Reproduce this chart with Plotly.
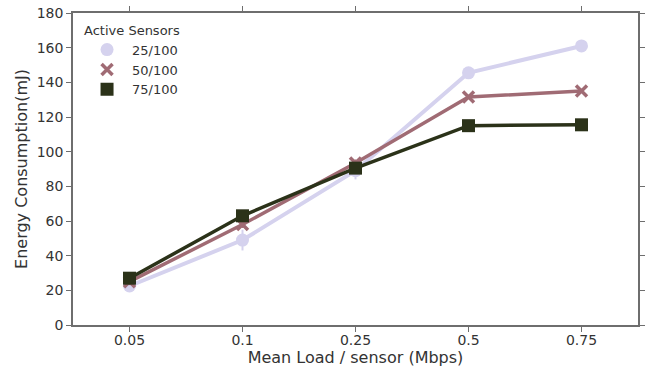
import plotly.graph_objects as go

loads = ["0.05", "0.1", "0.25", "0.5", "0.75"]
series_names = ["25/100", "50/100", "75/100"]
energy_25 = [22.5, 49, 89, 145.5, 161]
energy_50 = [25, 58, 93.5, 131.5, 135]
energy_75 = [27, 63, 90.5, 115, 115.5]
err_25 = [2, 6, 5, 1, 1]
err_50 = [2, 2, 2, 1, 1]
err_75 = [1, 1, 1, 1, 1]

colors = ["#d5d2ee", "#a06b74", "#2b3219"]
symbols = ["circle", "x-thin-open", "square"]
msizes = [13, 11, 13]
lwidths = [4, 3.5, 3.5]

fig = go.Figure()
for name, vals, errs, c, s, ms, lw in zip(series_names, [energy_25, energy_50, energy_75],
                                         [err_25, err_50, err_75], colors, symbols, msizes, lwidths):
    marker = dict(color=c, size=ms, symbol=s)
    if s == "x-thin-open":
        marker["line"] = dict(color=c, width=3.5)
    else:
        marker["line"] = dict(width=0)
    fig.add_trace(go.Scatter(
        x=loads, y=vals, mode="lines+markers", name=name, showlegend=False,
        legendgroup=name,
        line=dict(color=c, width=lw), marker=marker,
        error_y=dict(type="data", array=errs, color=c, thickness=2, width=0),
    ))
    # legend entry showing marker only
    fig.add_trace(go.Scatter(
        x=[None], y=[None], mode="markers", name=name, legendgroup=name,
        marker=marker, showlegend=True,
    ))

axis_common = dict(
    showline=True, linecolor="#6e6e6e", linewidth=1.5, mirror="ticks",
    ticks="outside", ticklen=5, tickcolor="#6e6e6e", tickwidth=1.2,
    showgrid=False, zeroline=False, automargin=False,
    tickfont=dict(size=14, color="#333333"),
    title_font=dict(size=16, color="#333333"),
)

fig.update_layout(
    width=649, height=375,
    margin=dict(l=73, r=11, t=13, b=50),
    paper_bgcolor="white", plot_bgcolor="white",
    font=dict(family="DejaVu Sans", color="#333333"),
    xaxis=dict(title=dict(text="Mean Load / sensor (Mbps)", standoff=2),
               type="category", range=[-0.5, 4.5], ticklabelstandoff=-4,
               **axis_common),
    yaxis=dict(title=dict(text="Energy Consumption(mJ)", standoff=5),
               range=[0, 180], dtick=20, ticklabeloverflow="allow",
               **axis_common),
    legend=dict(
        title=dict(text="Active Sensors", font=dict(size=13, color="#333333")),
        x=0.016, y=0.985, xanchor="left", yanchor="top",
        bgcolor="rgba(0,0,0,0)", font=dict(size=13, color="#333333"),
        tracegroupgap=0, itemwidth=40,
    ),
)

# remove the default 8px body margin so the figure fills the window exactly
fig.write_html("out.html", config={"displayModeBar": False},
               post_script="document.body.style.margin='0';")
